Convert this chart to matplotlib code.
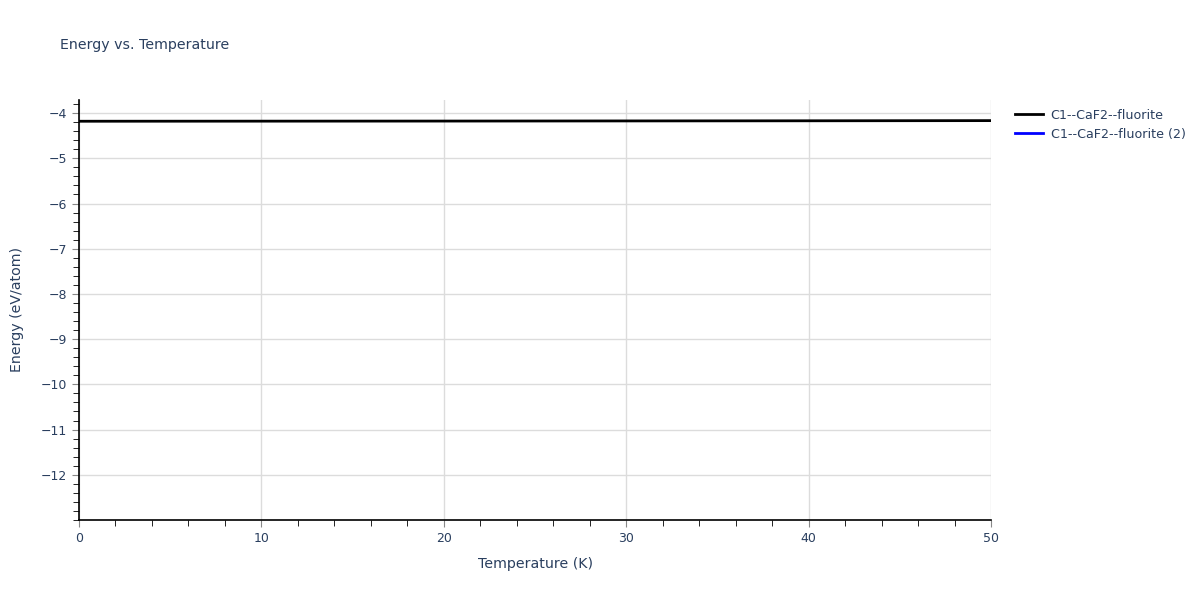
import matplotlib
matplotlib.use("Agg")
import matplotlib.pyplot as plt
from matplotlib.ticker import MultipleLocator, FixedLocator

# Data
temperature_k = [0, 10, 20, 30, 40, 50]
energy_main = [-4.180, -4.178, -4.176, -4.173, -4.170, -4.166]
temperature_k_2 = []
energy_2 = []

series_names = ["C1--CaF2--fluorite", "C1--CaF2--fluorite (2)"]
y_ticks = [-12, -11, -10, -9, -8, -7, -6, -5, -4]
text_color = "#2a3f5f"

fig = plt.figure(figsize=(12, 6), dpi=100)
ax = fig.add_axes([79 / 1200, 80 / 600, 912 / 1200, 420 / 600])

ax.plot(temperature_k, energy_main, color="black", linewidth=2, label=series_names[0])
ax.plot(temperature_k_2, energy_2, color="blue", linewidth=2, label=series_names[1])

ax.set_xlim(0, 50)
ax.set_ylim(-13.0, -3.71)
ax.xaxis.set_major_locator(MultipleLocator(10))
ax.xaxis.set_minor_locator(MultipleLocator(2))
ax.yaxis.set_major_locator(FixedLocator(y_ticks))
ax.yaxis.set_minor_locator(MultipleLocator(0.2))

ax.grid(True, which="major", color="#dcdcdc", linewidth=1)
ax.set_axisbelow(True)
for side in ("top", "right"):
    ax.spines[side].set_visible(False)
for side in ("left", "bottom"):
    ax.spines[side].set_color("black")
    ax.spines[side].set_linewidth(1.2)

ax.tick_params(which="major", direction="out", length=5, color="#888888",
               labelcolor=text_color, labelsize=9)
ax.tick_params(which="minor", direction="out", length=4, color="black")
ax.yaxis.set_major_formatter(plt.FuncFormatter(lambda v, p: f"\u2212{abs(v):g}" if v < 0 else f"{v:g}"))

ax.set_xlabel("Temperature (K)", color=text_color, fontsize=10.2, labelpad=9)
ax.set_ylabel("Energy (eV/atom)", color=text_color, fontsize=10.2, labelpad=12)
fig.text(60 / 1200, 1 - 45 / 600, "Energy vs. Temperature", color=text_color,
         fontsize=10.2, va="center", ha="left")

ax.legend(loc="upper left", bbox_to_anchor=(1.017, 1.0), frameon=False,
          fontsize=9.1, labelcolor=text_color, handlelength=2.2, borderaxespad=0.3,
          labelspacing=0.45, handletextpad=0.6)

fig.savefig("out.png", dpi=100)
plt.close(fig)
